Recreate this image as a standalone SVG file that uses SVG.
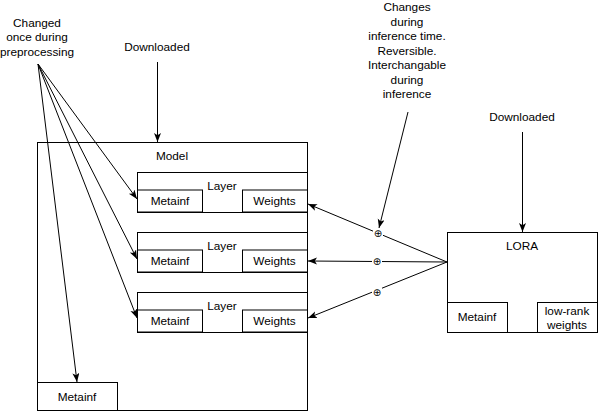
<svg xmlns="http://www.w3.org/2000/svg" width="598" height="413" viewBox="0 0 598 413">
<defs>
<marker id="arr" markerUnits="userSpaceOnUse" markerWidth="10" markerHeight="8" refX="9" refY="3.5" orient="auto">
<path d="M0,0 L9,3.5 L0,7 L2.2,3.5 Z" fill="#000"/>
</marker>
<style>
text{font-family:"Liberation Sans",Arial,sans-serif;font-size:11.8px;fill:#000;text-anchor:middle}
.b{fill:#fff;stroke:#000;stroke-width:1}
.c{fill:none;stroke:#000;stroke-width:1}
.p{font-family:"DejaVu Sans",sans-serif;font-size:10px}
</style>
</defs>
<rect width="598" height="413" fill="#fff"/>
<g id="label-preprocessing">
<text x="37" y="27">Changed</text>
<text x="37" y="41">once during</text>
<text x="37" y="56">preprocessing</text>
</g>
<g id="label-downloaded-model"><text x="157" y="51">Downloaded</text></g>
<g id="label-inference">
<text x="407" y="11">Changes</text>
<text x="407" y="25.5">during</text>
<text x="407" y="40">inference time.</text>
<text x="407" y="54.5">Reversible.</text>
<text x="407" y="69">Interchangable</text>
<text x="407" y="83.5">during</text>
<text x="407" y="98">inference</text>
</g>
<g id="label-downloaded-lora"><text x="522" y="121">Downloaded</text></g>
<g id="model">
<rect class="b" x="37.5" y="142.5" width="270" height="268"/>
<text x="172" y="160">Model</text>
</g>
<g id="layer1">
<rect class="b" x="137.5" y="172.5" width="170" height="40"/>
<text x="222" y="190">Layer</text>
<rect class="b" x="137.5" y="190" width="65" height="22"/>
<text x="170" y="205">Metainf</text>
<rect class="b" x="242.5" y="190" width="65" height="22"/>
<text x="274.5" y="205">Weights</text>
</g>
<g id="layer2">
<rect class="b" x="137.5" y="232.5" width="170" height="40"/>
<text x="222" y="250">Layer</text>
<rect class="b" x="137.5" y="250" width="65" height="22"/>
<text x="170" y="265">Metainf</text>
<rect class="b" x="242.5" y="250" width="65" height="22"/>
<text x="274.5" y="265">Weights</text>
</g>
<g id="layer3">
<rect class="b" x="137.5" y="292.5" width="170" height="40"/>
<text x="222" y="310">Layer</text>
<rect class="b" x="137.5" y="310" width="65" height="22"/>
<text x="170" y="325">Metainf</text>
<rect class="b" x="242.5" y="310" width="65" height="22"/>
<text x="274.5" y="325">Weights</text>
</g>
<g id="model-metainf">
<rect class="b" x="37.5" y="382.5" width="80" height="28"/>
<text x="77" y="401">Metainf</text>
</g>
<g id="lora">
<rect class="b" x="447.5" y="232.5" width="150" height="100"/>
<text x="522" y="250">LORA</text>
<rect class="b" x="447.5" y="302.5" width="60" height="30"/>
<text x="477" y="321">Metainf</text>
<rect class="b" x="537.5" y="302.5" width="60" height="30"/>
<text x="567" y="315">low-rank</text>
<text x="567" y="329">weights</text>
</g>
<g id="connectors">
<line class="c" x1="157.5" y1="62" x2="157.5" y2="142" marker-end="url(#arr)"/>
<line class="c" x1="522.5" y1="132" x2="522.5" y2="232" marker-end="url(#arr)"/>
<line class="c" x1="38" y1="64" x2="137" y2="199" marker-end="url(#arr)"/>
<line class="c" x1="38" y1="64" x2="137" y2="259" marker-end="url(#arr)"/>
<line class="c" x1="38" y1="64" x2="137" y2="318" marker-end="url(#arr)"/>
<line class="c" x1="38" y1="64" x2="77" y2="382" marker-end="url(#arr)"/>
<line class="c" x1="447" y1="262" x2="308" y2="204" marker-end="url(#arr)"/>
<line class="c" x1="447" y1="262" x2="308" y2="261" marker-end="url(#arr)"/>
<line class="c" x1="447" y1="262" x2="308" y2="318" marker-end="url(#arr)"/>
<line class="c" x1="408" y1="112" x2="379" y2="228" marker-end="url(#arr)"/>
<rect x="373" y="228" width="10" height="10" fill="#fff"/>
<text class="p" x="378" y="237">⊕</text>
<rect x="372" y="256" width="10" height="10" fill="#fff"/>
<text class="p" x="377" y="265">⊕</text>
<rect x="372" y="287" width="10" height="10" fill="#fff"/>
<text class="p" x="377" y="296">⊕</text>
</g>
</svg>
